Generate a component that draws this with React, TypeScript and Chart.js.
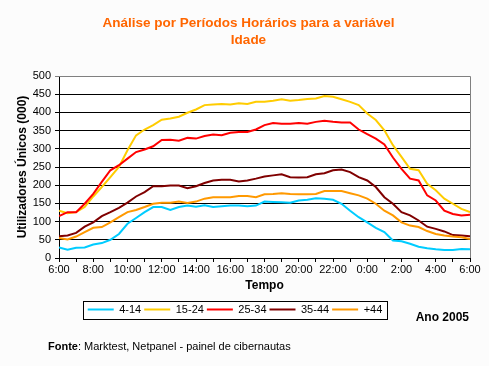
import React, { useEffect, useRef } from "react";
import { Chart, registerables } from "chart.js";

Chart.register(...registerables);

const hours = [0, 0.5, 1, 1.5, 2, 2.5, 3, 3.5, 4, 4.5, 5, 5.5, 6, 6.5, 7, 7.5, 8, 8.5, 9, 9.5, 10, 10.5, 11, 11.5, 12, 12.5, 13, 13.5, 14, 14.5, 15, 15.5, 16, 16.5, 17, 17.5, 18, 18.5, 19, 19.5, 20, 20.5, 21, 21.5, 22, 22.5, 23, 23.5, 24];
const tickLabels = ["6:00", "8:00", "10:00", "12:00", "14:00", "16:00", "18:00", "20:00", "22:00", "0:00", "2:00", "4:00", "6:00"];
const seriesNames = ["4-14", "15-24", "25-34", "35-44", "+44"];
const seriesColors = ["#00CCFF", "#FFCC00", "#FF0000", "#800000", "#FF9900"];

const age414 = [29, 23, 28, 29, 37, 41, 50, 66, 94, 110, 126, 140, 140, 132, 140, 144, 141, 145, 140, 142, 144, 144, 142, 144, 155, 154, 153, 152, 158, 160, 164, 163, 160, 149, 130, 112, 98, 83, 71, 48, 46, 39, 31, 27, 24, 22, 22, 25, 24];
const age1524 = [130, 123, 126, 140, 169, 195, 222, 250, 296, 337, 353, 365, 380, 383, 388, 399, 408, 420, 422, 423, 422, 425, 423, 429, 429, 432, 436, 432, 434, 437, 438, 445, 443, 436, 429, 420, 397, 379, 351, 310, 278, 245, 241, 204, 186, 163, 149, 135, 126];
const age2534 = [115, 126, 126, 149, 176, 209, 241, 255, 273, 291, 298, 307, 324, 325, 322, 330, 328, 335, 339, 337, 344, 346, 346, 353, 365, 371, 369, 369, 371, 369, 374, 377, 374, 372, 372, 353, 340, 328, 312, 276, 245, 218, 213, 172, 158, 130, 121, 117, 119];
const age3544 = [60, 62, 69, 86, 98, 115, 126, 138, 152, 169, 181, 197, 197, 199, 199, 192, 197, 206, 213, 215, 215, 210, 213, 218, 224, 227, 230, 222, 221, 222, 230, 233, 241, 243, 236, 222, 213, 195, 167, 149, 126, 117, 103, 86, 80, 73, 63, 62, 60];
const age44 = [55, 51, 59, 71, 83, 85, 98, 112, 126, 132, 140, 149, 152, 152, 155, 151, 155, 163, 167, 167, 167, 170, 170, 167, 175, 176, 178, 176, 175, 175, 176, 184, 184, 184, 178, 172, 163, 149, 130, 117, 98, 89, 85, 74, 66, 62, 59, 57, 52];

const allSeries = [age414, age1524, age2534, age3544, age44];

const titleLines = ["Análise por Períodos Horários para a variável", "Idade"];
const yTitle = "Utilizadores Únicos (000)";
const xTitle = "Tempo";
const yearNote = "Ano 2005";
const sourceLabel = "Fonte";
const sourceText = ": Marktest, Netpanel - painel de cibernautas";

const FONT = "'Liberation Sans', Arial, sans-serif";

const decorPlugin = {
  id: "decor",
  beforeDraw(chart: any) {
    const { ctx, chartArea, width, height } = chart;
    ctx.save();
    ctx.fillStyle = "#FCFCFC";
    ctx.fillRect(0, 0, width, height);
    ctx.fillStyle = "#FFFFFF";
    ctx.fillRect(chartArea.left, chartArea.top, chartArea.right - chartArea.left, chartArea.bottom - chartArea.top);
    const lg = chart.legend;
    if (lg && lg.legendHitBoxes && lg.legendHitBoxes.length) {
      const hb = lg.legendHitBoxes;
      const l = Math.min(...hb.map((b: any) => b.left));
      const r = Math.max(...hb.map((b: any) => b.left + b.width));
      const cy = hb[0].top + hb[0].height / 2;
      const x0 = Math.round(l - 5) + 0.5;
      const x1 = Math.round(r + 5) + 0.5;
      const y0 = Math.round(cy - 9) + 0.5;
      const y1 = Math.round(cy + 9) + 0.5;
      ctx.fillStyle = "#FFFFFF";
      ctx.fillRect(x0, y0, x1 - x0, y1 - y0);
      ctx.strokeStyle = "#000000";
      ctx.lineWidth = 1;
      ctx.strokeRect(x0, y0, x1 - x0, y1 - y0);
    }
    ctx.restore();
  },
  beforeDatasetsDraw(chart: any) {
    const { ctx, chartArea } = chart;
    ctx.save();
    ctx.strokeStyle = "#808080";
    ctx.lineWidth = 1;
    ctx.beginPath();
    ctx.moveTo(chartArea.left, chartArea.top + 0.5);
    ctx.lineTo(chartArea.right + 0.5, chartArea.top + 0.5);
    ctx.lineTo(chartArea.right + 0.5, chartArea.bottom);
    ctx.stroke();
    ctx.restore();
  },
  afterDraw(chart: any) {
    const { ctx } = chart;
    ctx.save();
    ctx.fillStyle = "#FF6600";
    ctx.font = `bold 13.5px ${FONT}`;
    ctx.textAlign = "center";
    ctx.textBaseline = "middle";
    ctx.fillText(titleLines[0], 248.5, 23);
    ctx.fillText(titleLines[1], 248.5, 40);
    ctx.fillStyle = "#000000";
    ctx.font = `bold 12px ${FONT}`;
    ctx.textAlign = "right";
    ctx.fillText(yearNote, 469, 318);
    ctx.textAlign = "left";
    ctx.font = `bold 11px ${FONT}`;
    ctx.fillText(sourceLabel, 48, 347);
    const w = ctx.measureText(sourceLabel).width;
    ctx.font = `11px ${FONT}`;
    ctx.fillText(sourceText, 48 + w, 347);
    ctx.restore();
  },
};

export default function App() {
  const ref = useRef<HTMLCanvasElement | null>(null);
  useEffect(() => {
    document.body.style.margin = "0";
    const canvas = ref.current;
    if (!canvas) return;
    const datasets = seriesNames.map((name, i) => ({
      label: name,
      data: allSeries[i].map((v, j) => ({ x: hours[j], y: v })),
      borderColor: seriesColors[i],
      backgroundColor: seriesColors[i],
      borderWidth: 2,
      pointRadius: 0,
      tension: 0,
      order: seriesNames.length - i,
    }));
    const chart = new Chart(canvas, {
      type: "line",
      data: { datasets },
      plugins: [decorPlugin],
      options: {
        animation: false,
        responsive: false,
        layout: { padding: { left: 0, right: 19, top: 76, bottom: 41 } },
        plugins: {
          title: { display: false },
          tooltip: { enabled: false },
          legend: {
            display: true,
            position: "bottom",
            labels: {
              usePointStyle: true,
              pointStyle: "line",
              pointStyleWidth: 26,
              padding: 3,
              color: "#000",
              font: { family: FONT, size: 11 },
              sort: (a: any, b: any) => a.datasetIndex - b.datasetIndex,
            },
          },
        },
        scales: {
          x: {
            type: "linear",
            min: 0,
            max: 24,
            afterFit: (s: any) => {
              s.height = 43;
            },
            ticks: {
              stepSize: 1,
              autoSkip: false,
              maxRotation: 0,
              padding: 1,
              color: "#000",
              font: { family: FONT, size: 11 },
              callback: (v: any) => (Number(v) % 2 === 0 ? tickLabels[Number(v) / 2] : ""),
            },
            grid: { drawOnChartArea: false, drawTicks: true, tickLength: 4, color: "#000" },
            border: { display: true, color: "#000" },
            title: {
              display: true,
              text: xTitle,
              color: "#000",
              font: { family: FONT, size: 12, weight: "bold" },
              padding: { top: 0, bottom: 8 },
            },
          },
          y: {
            min: 0,
            max: 500,
            afterFit: (s: any) => {
              s.width = 59;
            },
            ticks: {
              stepSize: 50,
              padding: 4,
              color: "#000",
              font: { family: FONT, size: 11 },
            },
            grid: {
              drawTicks: true,
              tickLength: 4,
              color: (c: any) => (c.tick && c.tick.value === 500 ? "#808080" : "#000"),
            },
            border: { display: true, color: "#000" },
            title: {
              display: true,
              text: yTitle,
              color: "#000",
              font: { family: FONT, size: 12, weight: "bold" },
              padding: { top: 15, bottom: 0 },
            },
          },
        },
      },
    });
    return () => chart.destroy();
  }, []);
  return (
    <div style={{ width: 489, height: 366 }}>
      <canvas ref={ref} width={489} height={366} style={{ display: "block" }} />
    </div>
  );
}
